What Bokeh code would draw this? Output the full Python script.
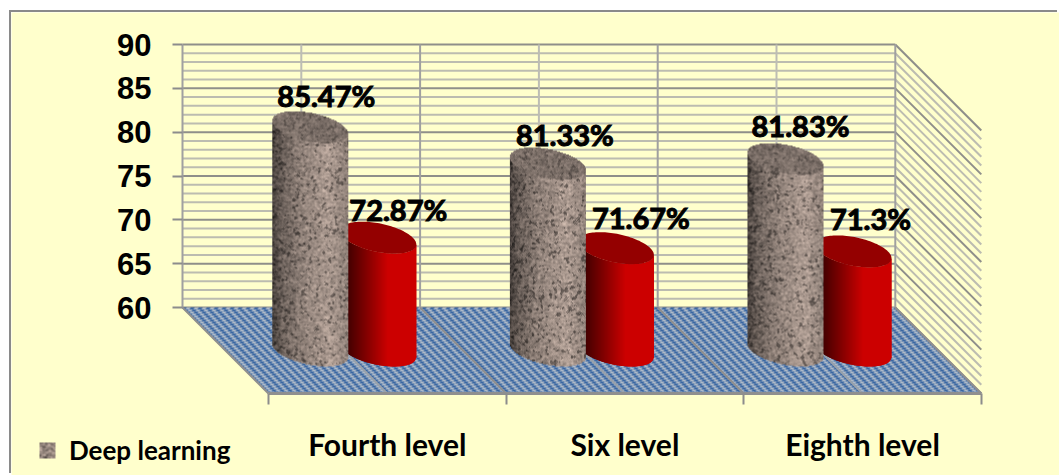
import numpy as np
from bokeh.embed import file_html
from bokeh.resources import INLINE
from bokeh.plotting import figure
from bokeh.models import ColumnDataSource, FixedTicker, Legend, LegendItem
from bokeh.core.properties import value

# ---------- data ----------
categories = ["Fourth level", "Six level", "Eighth level"]
deep_learning = [85.47, 81.33, 81.83]
second_series = [72.87, 71.67, 71.3]
deep_labels = ["85.47%", "81.33%", "81.83%"]
second_labels = ["72.87%", "71.67%", "71.3%"]
y_ticks = [60, 65, 70, 75, 80, 85, 90]

# ---------- layout ----------
LEFT, TOP = 11, 12                    # figure offset inside the page
W, H = 1059 - LEFT, 475 - TOP
PXU = 237.6                           # px per category
PXV = 263.0 / 30                      # px per value unit
AX_X, AX_Y = 268, 307                 # page position of category 0 / value 60 (front / back)
DX = 86 / PXU                         # depth shift (categories)
DY = 86 / PXV                         # depth shift (value units)
BASE = 60.0
X0 = (LEFT - AX_X) / PXU
X1 = (1059 - AX_X) / PXU
Y1 = BASE + (AX_Y - TOP) / PXV
Y0 = BASE + (AX_Y - 475) / PXV

p = figure(width=W, height=H, x_range=(X0, X1), y_range=(Y0, Y1),
           output_backend="svg", toolbar_location=None,
           min_border_left=0, min_border_right=0, min_border_top=0, min_border_bottom=0,
           margin=(TOP, 0, 0, LEFT))
p.styles = {"box-shadow": "-2px -2px 0 #8a8a8a"}
YEL = "#ffffcc"
p.background_fill_color = YEL
p.border_fill_color = YEL
p.outline_line_color = None
p.xgrid.visible = False
p.ygrid.visible = False

fy0 = BASE - DY                       # front edge of the floor, in value units

# value axis
ya = p.yaxis[0]
ya.fixed_location = -DX
ya.ticker = FixedTicker(ticks=y_ticks)
ya.axis_line_color = None
ya.major_tick_in = 0
ya.major_tick_out = 10
ya.major_tick_line_color = "#8c8c8c"
ya.major_tick_line_width = 2
ya.minor_tick_line_color = None
ya.major_label_text_font = "Liberation Sans"
ya.major_label_text_font_style = "bold"
ya.major_label_text_font_size = "31px"
ya.major_label_text_color = "black"
ya.major_label_standoff = 21

# category axis
xa = p.xaxis[0]
xa.fixed_location = fy0
xa.ticker = FixedTicker(ticks=[0.5, 1.5, 2.5], minor_ticks=[0, 1, 2, 3])
xa.major_label_overrides = {0.5: categories[0], 1.5: categories[1], 2.5: categories[2]}
xa.axis_line_color = None
xa.major_tick_line_color = None
xa.major_tick_in = 0
xa.major_tick_out = 0
xa.minor_tick_in = 0
xa.minor_tick_out = 11
xa.minor_tick_line_color = "#8c8c8c"
xa.minor_tick_line_width = 2
xa.major_label_text_font = "Lato"
xa.major_label_text_font_style = "bold"
xa.major_label_text_font_size = "30px"
xa.major_label_text_color = "black"
xa.major_label_standoff = 21

# ---------- walls ----------
walls = np.arange(60, 91)
major = walls[walls % 5 == 0]
minor = walls[walls % 5 != 0]
BX0, BX1 = -DX, 3 - DX      # back wall ends

def segs(v, color, width):
    p.segment(x0=[BX0] * len(v), x1=[BX1] * len(v), y0=v, y1=v, line_color=color, line_width=width)
    p.segment(x0=[BX1] * len(v), x1=[3.0] * len(v), y0=v, y1=v - DY, line_color=color, line_width=width)

segs(minor, "#bcbcb0", 2)
segs(major, "#8f8f8a", 2)

vert_minor = [0.5, 1.5, 2.5]
vert_major = [0, 1, 2, 3]
p.segment(x0=[u - DX for u in vert_minor], x1=[u - DX for u in vert_minor],
          y0=[BASE] * 3, y1=[90] * 3, line_color="#bdbdb4", line_width=2)
p.segment(x0=[u - DX for u in vert_major], x1=[u - DX for u in vert_major],
          y0=[BASE] * 4, y1=[90] * 4, line_color="#a0a0a0", line_width=2)

# ---------- floor (tiled pattern masked to the parallelogram) ----------
FW = int(round((3 * PXU) + 86)) + 2
FH = 86
iy, ix = np.mgrid[0:FH, 0:FW]         # row 0 = front of the floor
depth = (iy + 0.5) / FH
col_u = -DX + (ix + 0.5) / PXU
inside = (col_u >= -depth * DX) & (col_u <= 3 - depth * DX)
sy = FH - 1 - iy
tile = (((ix + sy) // 4) + (sy // 2)) % 2 == 0
fl = np.zeros((FH, FW), dtype=np.uint32)
blue = 0xFF000000 | (0xA2 << 16) | (0x67 << 8) | 0x3A
pale = 0xFF000000 | (0xC8 << 16) | (0xBA << 8) | 0xAE
fl[inside & tile] = blue
fl[inside & ~tile] = pale
p.image_rgba(image=[fl], x=-DX, y=fy0, dw=FW / PXU, dh=FH / PXV)

# floor grid lines
for us, col in ((vert_minor, "#9aa2ab"), (vert_major, "#8f8f8f")):
    p.segment(x0=[u - DX for u in us], x1=us, y0=[BASE] * len(us), y1=[fy0] * len(us),
              line_color=col, line_width=2)
p.segment(x0=[0], x1=[3], y0=[fy0], y1=[fy0], line_color="#8f8f8f", line_width=3)

# ---------- cylinders ----------
R_X = 38 / PXU        # half visible width (categories)
R_Y = 16 / PXV        # half ellipse height (value units)
RAD = np.sqrt(38 ** 2 - 16 ** 2)
K = 16 / RAD          # shear of the depth direction
GROUP = 34 / PXU

def ellipse(cu, cv, n=120):
    t = np.linspace(0, 2 * np.pi, n)
    xs = cu + (RAD * np.cos(t) + RAD * K * np.sin(t)) / PXU
    ys = cv - (RAD * K * np.sin(t)) / PXV
    return xs, ys

def edge(X, sign):
    """depth coordinate of the ellipse rim above half-width position X in [-1, 1]"""
    x = X * 38 / RAD
    disc = np.maximum(K ** 2 * x ** 2 - (1 + K ** 2) * (x ** 2 - 1), 0)
    return (K * x + sign * np.sqrt(disc)) / (1 + K ** 2)

def mix(a, b, t):
    return tuple(int(round(a[i] + (b[i] - a[i]) * t)) for i in range(3))

def red_color(t):
    return "#%02x%02x%02x" % mix((44, 0, 0), (204, 0, 0), min(t / 0.62, 1.0))

def center(i, side, v):
    """bar centre at half depth, in data units"""
    return i + 0.5 - DX * 0.5 + side * GROUP, v - DY * 0.5

# red series
for i, v in enumerate(second_series):
    cu, cv = center(i, +1, v)
    _, cb = center(i, +1, BASE)
    edges = np.linspace(-1, 1, 77)
    xs, ys, cols = [], [], []
    over = 1.2 / 38
    for a, b in zip(edges[:-1], edges[1:]):
        b2 = min(b + over, 1.0)
        sa, sb = edge(a, 1), edge(b2, 1)
        xs.append([cu + a * R_X, cu + b2 * R_X, cu + b2 * R_X, cu + a * R_X])
        ys.append([cv - sa * R_Y, cv - sb * R_Y, cb - sb * R_Y, cb - sa * R_Y])
        cols.append(red_color((a + 1) / 2))
    p.patches(xs, ys, fill_color=cols, line_color=None)
    ex, ey = ellipse(cu, cv)
    p.patch(ex, ey, fill_color="#940000", line_color=None)

# texture helpers (deterministic hash noise)
def hash2(x, y):
    v = np.sin(x * 12.9898 + y * 78.233) * 43758.5453
    return v - np.floor(v)

def blur(a, n):
    out = a.copy()
    for _ in range(n):
        out = (out + np.roll(out, 1, 0) + np.roll(out, -1, 0) + np.roll(out, 1, 1) + np.roll(out, -1, 1)) / 5
    return out

def texture(jx, jy, seed):
    coarse = blur(hash2(jx + seed * 131.0, jy + seed * 17.0), 2)
    coarse = (coarse - coarse.mean()) / coarse.std()
    fine = blur(hash2(jx + seed * 51.0, jy + 7.0), 1)
    fine = (fine - fine.mean()) / fine.std()
    return coarse, fine

def pack(L, mask):
    r = np.clip(L * 190, 0, 255).astype(np.uint32)
    g = np.clip(L * 171, 0, 255).astype(np.uint32)
    b = np.clip(L * 160, 0, 255).astype(np.uint32)
    img = np.zeros(L.shape, dtype=np.uint32)
    img[mask] = (0xFF000000 | (b << 16) | (g << 8) | r)[mask]
    return img

def stone_image(cu, cv, cb, seed):
    w = 76
    h = int(np.ceil((cv - cb) * PXV + 2 * 16)) + 2
    jy, jx = np.mgrid[0:h, 0:w]
    X = (jx + 0.5 - w / 2) / 38
    yv = (jy + 0.5) / PXV + (cb - R_Y) - 1 / PXV     # row 0 is the bottom of the image
    fe, be = edge(X, 1), edge(X, -1)
    y_low = cb - fe * R_Y
    y_front = cv - fe * R_Y
    y_back = cv - be * R_Y
    side = (yv >= y_low) & (yv <= y_front)
    top = (yv > y_front) & (yv <= y_back)
    coarse, fine = texture(jx, jy, seed)
    t = (X + 1) / 2
    shade = np.interp(t, [0, 0.12, 0.35, 0.75, 1.0], [0.38, 0.56, 0.74, 0.92, 0.76])
    lum = shade + 0.075 * fine
    lum = np.where(coarse > 1.2, lum * 0.62, lum)
    lum_top = 0.66 + 0.06 * fine
    lum_top = np.where(coarse > 1.2, lum_top * 0.75, lum_top)
    L = np.where(top, lum_top, lum)
    return pack(L, side | top), w, h

for i, v in enumerate(deep_learning):
    cu, cv = center(i, -1, v)
    _, cb = center(i, -1, BASE)
    img, w, h = stone_image(cu, cv, cb, i + 1)
    p.image_rgba(image=[img], x=cu - w / 2 / PXU, y=cb - R_Y - 1 / PXV, dw=w / PXU, dh=h / PXV)

# ---------- value labels ----------
lx, ly, lt, ox, oy = [], [], [], [], []
nudges_a = [(16, -32), (17, -29), (15, -34)]
nudges_b = [(20, -28), (25, -31), (17, -33)]
for i in range(3):
    cu, cv = center(i, -1, deep_learning[i])
    lx.append(cu); ly.append(cv); lt.append(deep_labels[i]); ox.append(nudges_a[i][0]); oy.append(nudges_a[i][1])
    cu, cv = center(i, +1, second_series[i])
    lx.append(cu); ly.append(cv); lt.append(second_labels[i]); ox.append(nudges_b[i][0]); oy.append(nudges_b[i][1])
src = ColumnDataSource(dict(x=lx, y=ly, t=lt, ox=ox, oy=oy))
p.text("x", "y", text="t", x_offset="ox", y_offset="oy", source=src, text_align="center",
       text_baseline="middle", text_font=value("Lato"), text_font_style="bold",
       text_font_size="29px", text_color="black", text_outline_color="black")

# ---------- legend ----------
SW = 16
sjy, sjx = np.mgrid[0:SW, 0:SW]
s_coarse, s_fine = texture(sjx, sjy, 9)
s_img = pack(0.78 + 0.10 * s_fine + 0.08 * s_coarse, np.ones((SW, SW), dtype=bool))
sw = p.image_rgba(image=[s_img], x=(39 - AX_X) / PXU, y=BASE + (AX_Y - 458) / PXV, dw=SW / PXU, dh=SW / PXV)
leg = Legend(items=[LegendItem(label="Deep learning", renderers=[sw])],
             location=(28, 9), orientation="horizontal",
             background_fill_alpha=0, border_line_color=None,
             label_text_font="Lato", label_text_font_style="bold",
             label_text_font_size="26px", label_text_color="black",
             glyph_width=16, glyph_height=16, label_standoff=14, margin=0, padding=8)
p.add_layout(leg, "center")

open("out.html", "w").write(file_html(p, INLINE))
